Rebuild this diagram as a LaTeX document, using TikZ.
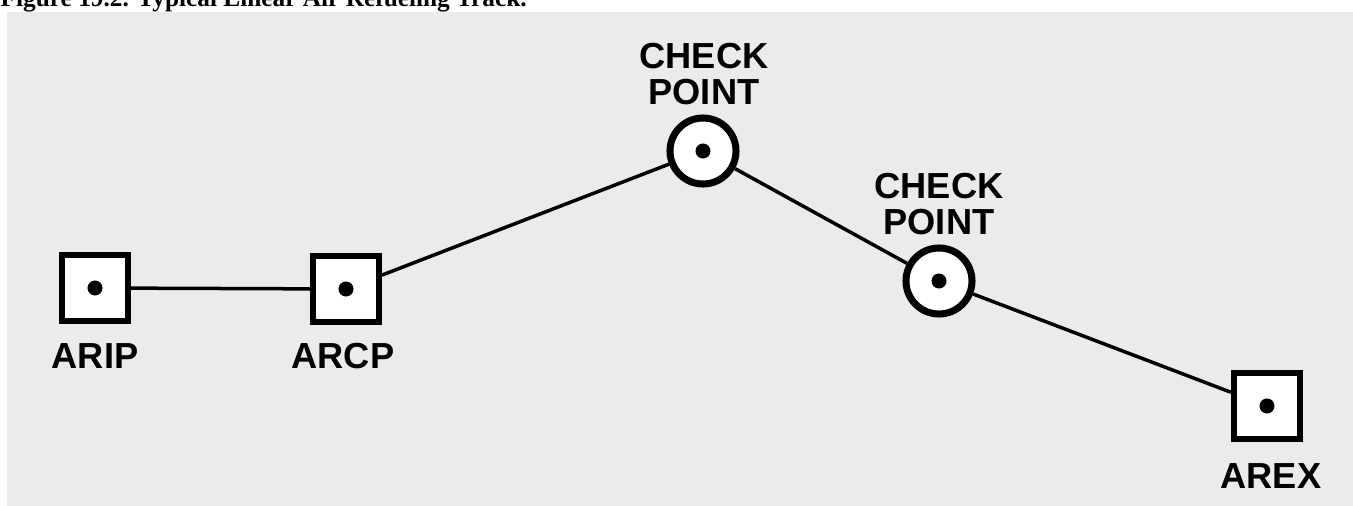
\documentclass[tikz,border=0pt]{standalone}
\usepackage{fontspec}
\setmainfont{Liberation Sans}
\newfontfamily\titlefont{Liberation Serif}
\usepackage{xcolor}
\usetikzlibrary{positioning}
\definecolor{panelgray}{HTML}{EBEBEB}

\begin{document}
\begin{tikzpicture}[
    x=0.01cm, y=-0.01cm,
    fix/.style = {draw, fill=white, rectangle, minimum size=0.66cm, line width=0.06cm, inner sep=0pt},
    checkpt/.style = {draw, fill=white, circle, minimum size=0.66cm, line width=0.07cm, inner sep=0pt},
    tag/.style = {font=\fontsize{10.3pt}{10.3pt}\bfseries\selectfont, inner sep=0pt, align=center},
    track/.style = {line width=0.035cm}
]
    \useasboundingbox (0,0) rectangle (1353,506);
    \fill[panelgray] (7,12) rectangle (1353,506);
    \node[anchor=base west, inner sep=0pt, font=\titlefont\fontsize{7.2pt}{8pt}\bfseries\selectfont] (title) at (0,7) {Figure 19.2. Typical Linear Air Refueling Track.};

    % fixes
    \node[fix] (arip) at (95,288) {};
    \node[fix] (arcp) at (346,289) {};
    \node[checkpt] (cp1) at (703,151) {};
    \node[checkpt] (cp2) at (939,281) {};
    \node[fix] (arex) at (1267,406) {};
    \foreach \n in {arip, arcp, cp1, cp2, arex}
        \fill (\n.center) circle (0.075cm);

    % track legs
    \draw[track] (arip) -- (arcp) -- (cp1) -- (cp2) -- (arex);

    % labels
    \node[tag] (ariplbl) at (95,356) {ARIP};
    \node[tag] (arcplbl) at (343,356) {ARCP};
    \node[tag] (cp1lbl) at (704,74) {CHECK\\POINT};
    \node[tag] (cp2lbl) at (939,204) {CHECK\\POINT};
    \node[tag] (arexlbl) at (1271,476) {AREX};
\end{tikzpicture}
\end{document}
